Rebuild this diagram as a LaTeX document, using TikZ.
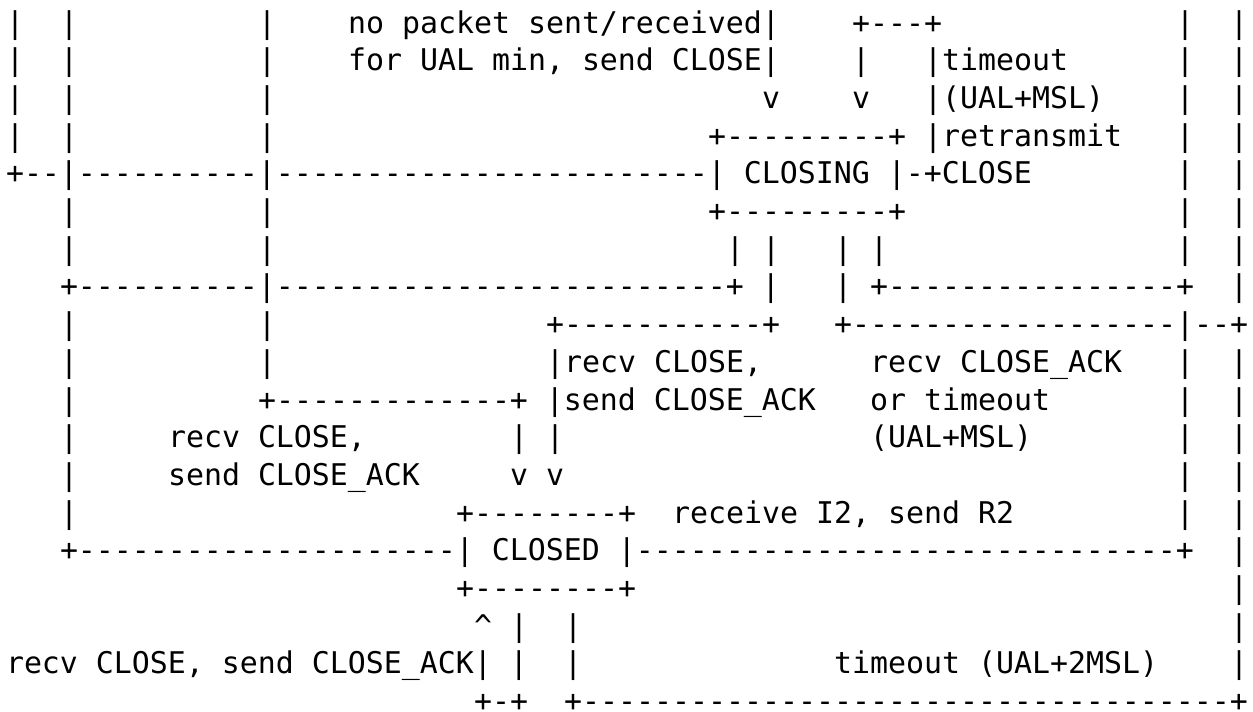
\documentclass[tikz,border=0pt]{standalone}
\usepackage{fontspec}
\setmonofont{DejaVu Sans Mono}
\newcommand\monoart{\ttfamily\fontsize{14.95pt}{18pt}\selectfont}
\tikzset{txt/.style={anchor=base west, inner sep=0pt, outer sep=0pt, font=\monoart, text=black}}
% row, column, characters
\newcommand\asciifrag[3]{\node[txt] (r#1c#2) at (3pt+9pt*#2, -16.5pt-18.85pt*#1+18.85pt) {#3};}
\begin{document}
\begin{tikzpicture}
\useasboundingbox[fill=white] (0,0) rectangle (626.5pt,-356pt);
% row 1
\asciifrag{1}{0}{|}\asciifrag{1}{3}{|}\asciifrag{1}{14}{|}
\asciifrag{1}{19}{no packet sent/received|}
\asciifrag{1}{47}{+---+}\asciifrag{1}{65}{|}\asciifrag{1}{68}{|}
% row 2
\asciifrag{2}{0}{|}\asciifrag{2}{3}{|}\asciifrag{2}{14}{|}
\asciifrag{2}{19}{for UAL min, send CLOSE|}
\asciifrag{2}{47}{|}\asciifrag{2}{51}{|timeout}\asciifrag{2}{65}{|}\asciifrag{2}{68}{|}
% row 3
\asciifrag{3}{0}{|}\asciifrag{3}{3}{|}\asciifrag{3}{14}{|}
\asciifrag{3}{42}{v}\asciifrag{3}{47}{v}\asciifrag{3}{51}{|(UAL+MSL)}
\asciifrag{3}{65}{|}\asciifrag{3}{68}{|}
% row 4
\asciifrag{4}{0}{|}\asciifrag{4}{3}{|}\asciifrag{4}{14}{|}
\asciifrag{4}{39}{+---------+ |retransmit}
\asciifrag{4}{65}{|}\asciifrag{4}{68}{|}
% row 5
\asciifrag{5}{0}{+--|----------|------------------------| CLOSING |-+CLOSE}
\asciifrag{5}{65}{|}\asciifrag{5}{68}{|}
% row 6
\asciifrag{6}{3}{|}\asciifrag{6}{14}{|}\asciifrag{6}{39}{+---------+}
\asciifrag{6}{65}{|}\asciifrag{6}{68}{|}
% row 7
\asciifrag{7}{3}{|}\asciifrag{7}{14}{|}\asciifrag{7}{40}{| |}\asciifrag{7}{46}{| |}
\asciifrag{7}{65}{|}\asciifrag{7}{68}{|}
% row 8
\asciifrag{8}{3}{+----------|-------------------------+ |}
\asciifrag{8}{46}{| +----------------+}\asciifrag{8}{68}{|}
% row 9
\asciifrag{9}{3}{|}\asciifrag{9}{14}{|}\asciifrag{9}{30}{+-----------+}
\asciifrag{9}{46}{+------------------|--+}
% row 10
\asciifrag{10}{3}{|}\asciifrag{10}{14}{|}\asciifrag{10}{30}{|recv CLOSE,}
\asciifrag{10}{48}{recv CLOSE\_ACK}\asciifrag{10}{65}{|}\asciifrag{10}{68}{|}
% row 11
\asciifrag{11}{3}{|}\asciifrag{11}{14}{+-------------+ |send CLOSE\_ACK}
\asciifrag{11}{48}{or timeout}\asciifrag{11}{65}{|}\asciifrag{11}{68}{|}
% row 12
\asciifrag{12}{3}{|}\asciifrag{12}{9}{recv CLOSE,}\asciifrag{12}{28}{| |}
\asciifrag{12}{48}{(UAL+MSL)}\asciifrag{12}{65}{|}\asciifrag{12}{68}{|}
% row 13
\asciifrag{13}{3}{|}\asciifrag{13}{9}{send CLOSE\_ACK}\asciifrag{13}{28}{v v}
\asciifrag{13}{65}{|}\asciifrag{13}{68}{|}
% row 14
\asciifrag{14}{3}{|}\asciifrag{14}{25}{+--------+}\asciifrag{14}{37}{receive I2, send R2}
\asciifrag{14}{65}{|}\asciifrag{14}{68}{|}
% row 15
\asciifrag{15}{3}{+---------------------| CLOSED |------------------------------+}
\asciifrag{15}{68}{|}
% row 16
\asciifrag{16}{25}{+--------+}\asciifrag{16}{68}{|}
% row 17
\asciifrag{17}{26}{\textasciicircum{} |}\asciifrag{17}{31}{|}\asciifrag{17}{68}{|}
% row 18
\asciifrag{18}{0}{recv CLOSE, send CLOSE\_ACK| |}\asciifrag{18}{31}{|}
\asciifrag{18}{46}{timeout (UAL+2MSL)}\asciifrag{18}{68}{|}
% row 19
\asciifrag{19}{26}{+-+}\asciifrag{19}{31}{+------------------------------------+}
\end{tikzpicture}
\end{document}
